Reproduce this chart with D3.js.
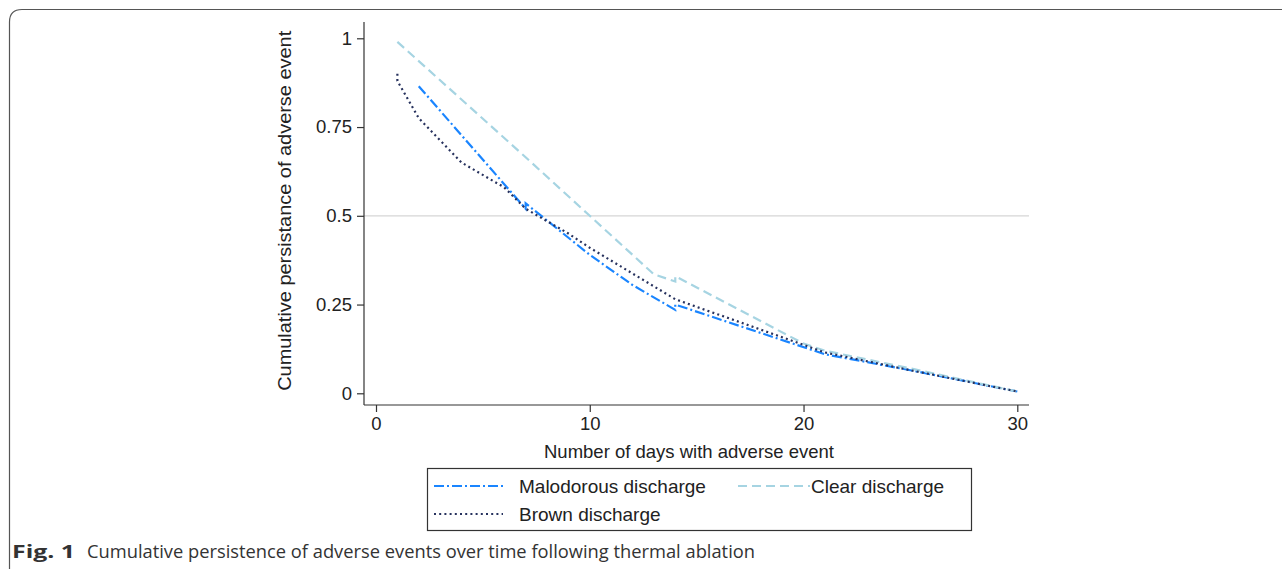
<!DOCTYPE html>
<html>
<head>
<meta charset="utf-8">
<script src="https://cdn.jsdelivr.net/npm/d3@7/dist/d3.min.js"></script>
<style>
  html, body { margin: 0; padding: 0; background: #fff; }
  svg { display: block; }
  .axis text { font-family: "Liberation Sans", Arial, sans-serif; font-size: 18.5px; fill: #222; }
  .axis path, .axis line { stroke: #333; stroke-width: 1.2; }
  .title { font-family: "Liberation Sans", Arial, sans-serif; font-size: 18.5px; fill: #222; }
  .legend-label { font-family: "Liberation Sans", Arial, sans-serif; font-size: 19px; fill: #222; }
  .caption { font-family: "Open Sans", "Noto Sans", sans-serif; font-size: 18px; fill: #333; }
</style>
</head>
<body>
<div id="chart"></div>
<script>
// Days and cumulative persistence per adverse event
const malodorousDays = [2, 7, 7, 10, 12, 14, 14, 21, 25, 30];
const malodorousValues = [0.865, 0.52, 0.535, 0.39, 0.305, 0.235, 0.25, 0.11, 0.065, 0.005];

const clearDays = [1, 7, 10, 13, 14, 14, 20, 21, 25, 30];
const clearValues = [0.99, 0.665, 0.5, 0.335, 0.315, 0.33, 0.14, 0.12, 0.07, 0.005];

const brownDays = [1, 1, 2, 4, 6, 7, 9, 10, 14, 21, 25, 30];
const brownValues = [0.9, 0.88, 0.775, 0.65, 0.58, 0.52, 0.45, 0.41, 0.265, 0.115, 0.065, 0.005];

const xTicks = [0, 10, 20, 30];
const yTicks = [0, 0.25, 0.5, 0.75, 1];
const yTickLabels = ['0', '0.25', '0.5', '0.75', '1'];

const series = [
    { label: 'Malodorous discharge', days: malodorousDays, values: malodorousValues, color: '#1a85ff', dash: '10,3,2,3' },
    { label: 'Clear discharge', days: clearDays, values: clearValues, color: '#a6d4e2', dash: '9,5' },
    { label: 'Brown discharge', days: brownDays, values: brownValues, color: '#27325e', dash: '2,3.2' }
];

const width = 1282;
const height = 569;

const svg = d3.select('#chart')
    .append('svg')
    .attr('width', width)
    .attr('height', height);

// outer frame (rounded corner at top-left, runs off the page)
svg.append('path')
    .attr('d', 'M9.5,' + (height + 5) + ' L9.5,22 Q9.5,9.5 22,9.5 L' + (width + 5) + ',9.5')
    .attr('fill', 'none')
    .attr('stroke', '#555')
    .attr('stroke-width', 1.2);

const x = d3.scaleLinear().domain([0, 30]).range([376, 1017.3]);
const y = d3.scaleLinear().domain([0, 1]).range([393.3, 38.3]);

const axisY = 405;
const axisX = 364;

// reference line at 0.5
svg.append('line')
    .attr('x1', axisX)
    .attr('x2', 1029)
    .attr('y1', y(0.5))
    .attr('y2', y(0.5))
    .attr('stroke', '#d6d6d6')
    .attr('stroke-width', 1.2);

const xAxis = svg.append('g')
    .attr('class', 'axis')
    .attr('transform', `translate(0,${axisY})`)
    .call(d3.axisBottom(x).tickValues(xTicks).tickSize(7).tickSizeOuter(0).tickPadding(5));
xAxis.select('.domain').attr('d', `M${axisX},0H1029`);

const yAxis = svg.append('g')
    .attr('class', 'axis')
    .attr('transform', `translate(${axisX},0)`)
    .call(d3.axisLeft(y).tickValues(yTicks).tickSize(7).tickSizeOuter(0).tickPadding(5)
        .tickFormat((d, i) => yTickLabels[i]));
yAxis.select('.domain').attr('d', `M0,22V${axisY}`);

svg.append('text')
    .attr('class', 'title')
    .attr('x', 689)
    .attr('y', 458)
    .attr('text-anchor', 'middle')
    .text('Number of days with adverse event');

svg.append('text')
    .attr('class', 'title')
    .attr('transform', `translate(291,${y(0.5) - 5}) rotate(-90)`)
    .attr('text-anchor', 'middle')
    .attr('textLength', 360)
    .attr('lengthAdjust', 'spacingAndGlyphs')
    .text('Cumulative persistance of adverse event');

const line = d3.line()
    .x(d => x(d[0]))
    .y(d => y(d[1]));

for (const s of series) {
    svg.append('path')
        .datum(s.days.map((day, i) => [day, s.values[i]]))
        .attr('fill', 'none')
        .attr('stroke', s.color)
        .attr('stroke-width', 2.2)
        .attr('stroke-dasharray', s.dash)
        .attr('d', line);
}

// legend
const legend = svg.append('g');
legend.append('rect')
    .attr('x', 427.5)
    .attr('y', 468.5)
    .attr('width', 544)
    .attr('height', 62)
    .attr('fill', 'none')
    .attr('stroke', '#333')
    .attr('stroke-width', 1.2);

const legendPos = [
    { lx: 434, ly: 486, len: 71, tx: 519 },
    { lx: 738, ly: 486, len: 72, tx: 811 },
    { lx: 434, ly: 514, len: 69, tx: 519 }
];

series.forEach((s, i) => {
    const p = legendPos[i];
    legend.append('line')
        .attr('x1', p.lx)
        .attr('x2', p.lx + p.len)
        .attr('y1', p.ly)
        .attr('y2', p.ly)
        .attr('stroke', s.color)
        .attr('stroke-width', 2.2)
        .attr('stroke-dasharray', s.dash);
    legend.append('text')
        .attr('class', 'legend-label')
        .attr('x', p.tx)
        .attr('y', p.ly + 7)
        .text(s.label);
});

// caption
svg.append('text')
    .attr('class', 'caption')
    .attr('x', 12)
    .attr('y', 558)
    .attr('font-weight', 'bold')
    .attr('fill', '#222')
    .attr('textLength', 63)
    .attr('lengthAdjust', 'spacingAndGlyphs')
    .text('Fig. 1');
svg.append('text')
    .attr('class', 'caption')
    .attr('x', 87)
    .attr('y', 558)
    .attr('textLength', 668)
    .attr('lengthAdjust', 'spacingAndGlyphs')
    .text('Cumulative persistence of adverse events over time following thermal ablation');
</script>
</body>
</html>
